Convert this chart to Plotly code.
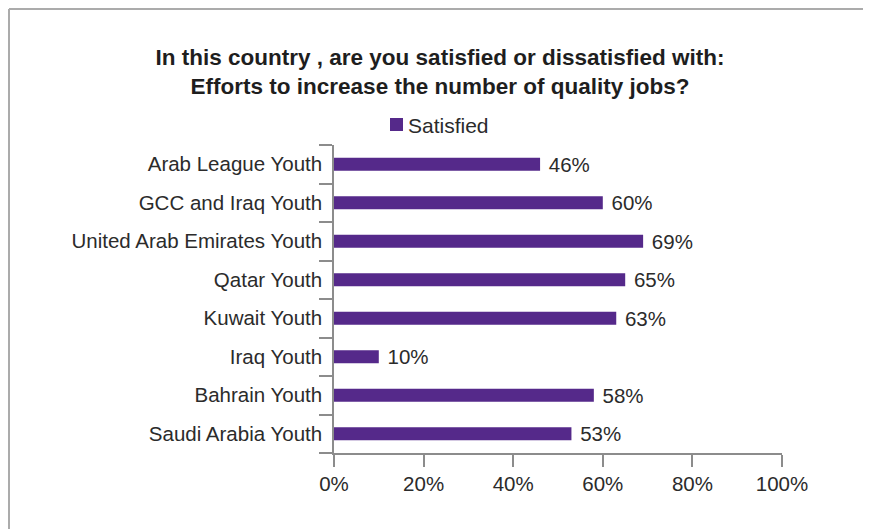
import plotly.graph_objects as go

categories = ["Arab League Youth", "GCC and Iraq Youth", "United Arab Emirates Youth",
              "Qatar Youth", "Kuwait Youth", "Iraq Youth", "Bahrain Youth", "Saudi Arabia Youth"]
satisfied = [46, 60, 69, 65, 63, 10, 58, 53]
x_ticks = [0, 20, 40, 60, 80, 100]
x_tick_labels = ["0%", "20%", "40%", "60%", "80%", "100%"]
series_name = "Satisfied"

# page body adds an 8px offset; positions below are in screen pixels
OFF = 8
SW, SH = 871, 529
W, H = SW - OFF, SH - OFF
L, R, T, B = 334, 782, 145, 453  # plot area in screen px

FONT = "Liberation Sans, Arial, Helvetica, sans-serif"
PURPLE = "#55298A"
TXT = "#2B2B2B"
AXC = "#8C8C8C"
FS = 20.5


def px_x(sx):
    return (sx - L) / (R - L)


def px_y(sy):
    return (B - sy) / (B - T)


fig = go.Figure()
fig.add_trace(go.Bar(
    y=categories, x=satisfied, orientation="h", name=series_name,
    marker=dict(color=PURPLE, line=dict(width=0)), width=0.34,
    text=[" %d%%" % v for v in satisfied], textposition="outside",
    constraintext="none",
    textfont=dict(family=FONT, size=FS, color=TXT), cliponaxis=False,
    showlegend=False,
))

fig.update_layout(
    width=W, height=H,
    margin=dict(l=L - OFF, r=W - (R - OFF), t=T - OFF, b=H - (B - OFF), autoexpand=False),
    paper_bgcolor="white", plot_bgcolor="white",
    font=dict(family=FONT, size=FS, color=TXT),
    title=dict(
        text="<b>In this country , are you satisfied or dissatisfied with:<br>Efforts to increase the number of quality jobs?</b>",
        x=(440 - OFF) / W, xanchor="center", y=1 - (65 - OFF) / H, yanchor="middle",
        font=dict(family=FONT, size=22.5, color="#1E1E1E"),
    ),
    showlegend=False,
    xaxis=dict(range=[0, 100], tickvals=x_ticks, ticktext=x_tick_labels,
               showgrid=False, zeroline=False, showline=True, linecolor=AXC, linewidth=1.5,
               ticks="outside", ticklen=12, tickcolor=AXC, tickwidth=1.5,
               tickfont=dict(family=FONT, size=FS, color=TXT), fixedrange=True),
    yaxis=dict(type="category", categoryorder="array", categoryarray=categories[::-1],
               showgrid=False, zeroline=False, showline=True, linecolor=AXC, linewidth=1.5,
               ticks="outside", ticklen=13, tickcolor=AXC, tickwidth=1.5, tickson="boundaries",
               ticklabelstandoff=6,
               tickfont=dict(family=FONT, size=FS, color=TXT), fixedrange=True),
    shapes=[
        # outer frame
        dict(type="line", xref="paper", yref="paper", x0=px_x(9), x1=px_x(SW + 10),
             y0=px_y(9), y1=px_y(9), line=dict(color="#ABABAB", width=2)),
        dict(type="line", xref="paper", yref="paper", x0=px_x(9), x1=px_x(9),
             y0=px_y(9), y1=px_y(SH + 10), line=dict(color="#ABABAB", width=2)),
        # legend swatch
        dict(type="rect", xref="paper", yref="paper", x0=px_x(390), x1=px_x(403),
             y0=px_y(131), y1=px_y(118), fillcolor=PURPLE, line=dict(width=0)),
    ],
    annotations=[
        dict(text=series_name, xref="paper", yref="paper", x=px_x(406), y=px_y(125),
             xanchor="left", yanchor="middle", showarrow=False,
             font=dict(family=FONT, size=21, color=TXT)),
    ],
)

fig.write_html("out.html")
